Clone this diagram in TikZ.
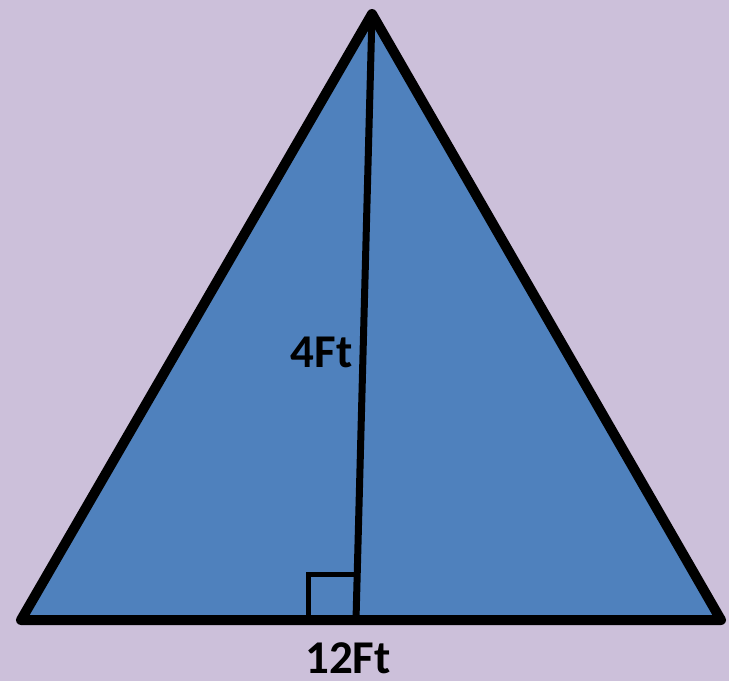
\documentclass[tikz,border=0pt]{standalone}
\usepackage{fontspec}
\setmainfont{Carlito}
\definecolor{bglilac}{HTML}{CCC0DA}
\definecolor{triblue}{HTML}{4F81BD}
\tikzset{
  lbl/.style={font=\fontsize{47}{50}\selectfont\bfseries, inner sep=0pt}
}
\begin{document}
\begin{tikzpicture}[x=1pt, y=-1pt]

  % background
  \fill[bglilac] (0,0) rectangle (729,681);
  \useasboundingbox (0,0) rectangle (729,681);

  % corners
  \coordinate (apex) at (372,14);
  \coordinate (left) at (21,620);
  \coordinate (right) at (721,620);
  \coordinate (foot) at (356,620);

  % triangle
  \filldraw[fill=triblue, draw=black, line width=10pt, line join=round]
    (apex) -- (left) -- (right) -- cycle;

  % height
  \draw[line width=7pt] (apex) -- (foot);

  % right angle mark
  \draw[line width=5pt] (308.5,620) -- (308.5,574.5) -- (354,574.5);

  % labels
  \node[lbl] (height) at (321.5,352) {4Ft};
  \node[lbl] (base) at (348,658) {12Ft};

\end{tikzpicture}
\end{document}
